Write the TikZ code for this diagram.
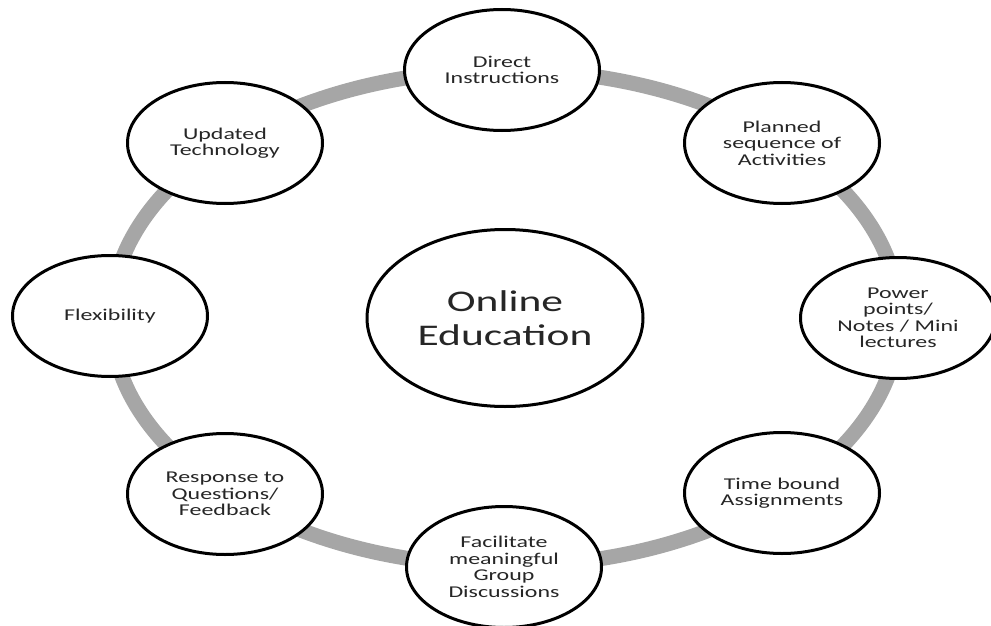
\documentclass[tikz,border=0pt]{standalone}
\usepackage{fontspec}
\setmainfont{Carlito}[FakeStretch=1.45]
\usetikzlibrary{shapes.geometric}
\definecolor{ringgray}{HTML}{A6A6A6}
\definecolor{txt}{HTML}{262626}
\tikzset{
  ringline/.style={draw=ringgray, line width=15pt},
  bubble/.style={ellipse, draw=black, line width=3pt, fill=white, inner sep=0pt,
    minimum width=195pt, minimum height=121pt, align=center, text=txt,
    font=\fontsize{16.5}{16.5}\selectfont},
  hub/.style={ellipse, draw=black, line width=3pt, fill=white, inner sep=0pt,
    minimum width=276pt, minimum height=177pt, align=center, text=txt,
    font=\fontsize{30}{34}\selectfont}
}
\begin{document}
\begin{tikzpicture}[x=1pt,y=-1pt]
\useasboundingbox (0,0) rectangle (991,626);
\coordinate (ctr) at (505,318);
\draw[ringline] (ctr) ellipse [x radius=394pt, y radius=248pt];
\node[hub] (OE) at (ctr) {Online\\Education};
\node[bubble] (DI) at (502,70) {Direct\\Instructions};
\node[bubble] (PS) at (782,143) {Planned\\sequence of\\Activities};
\node[bubble] (PP) at (898,318) {Power\\points/\\Notes / Mini\\lectures};
\node[bubble] (TB) at (782,493) {Time bound\\Assignments};
\node[bubble] (FG) at (504,567) {Facilitate\\meaningful\\Group\\Discussions};
\node[bubble] (RQ) at (225,494) {Response to\\Questions/\\Feedback};
\node[bubble] (FL) at (110,316) {Flexibility};
\node[bubble] (UT) at (225,143) {Updated\\Technology};
\end{tikzpicture}
\end{document}
